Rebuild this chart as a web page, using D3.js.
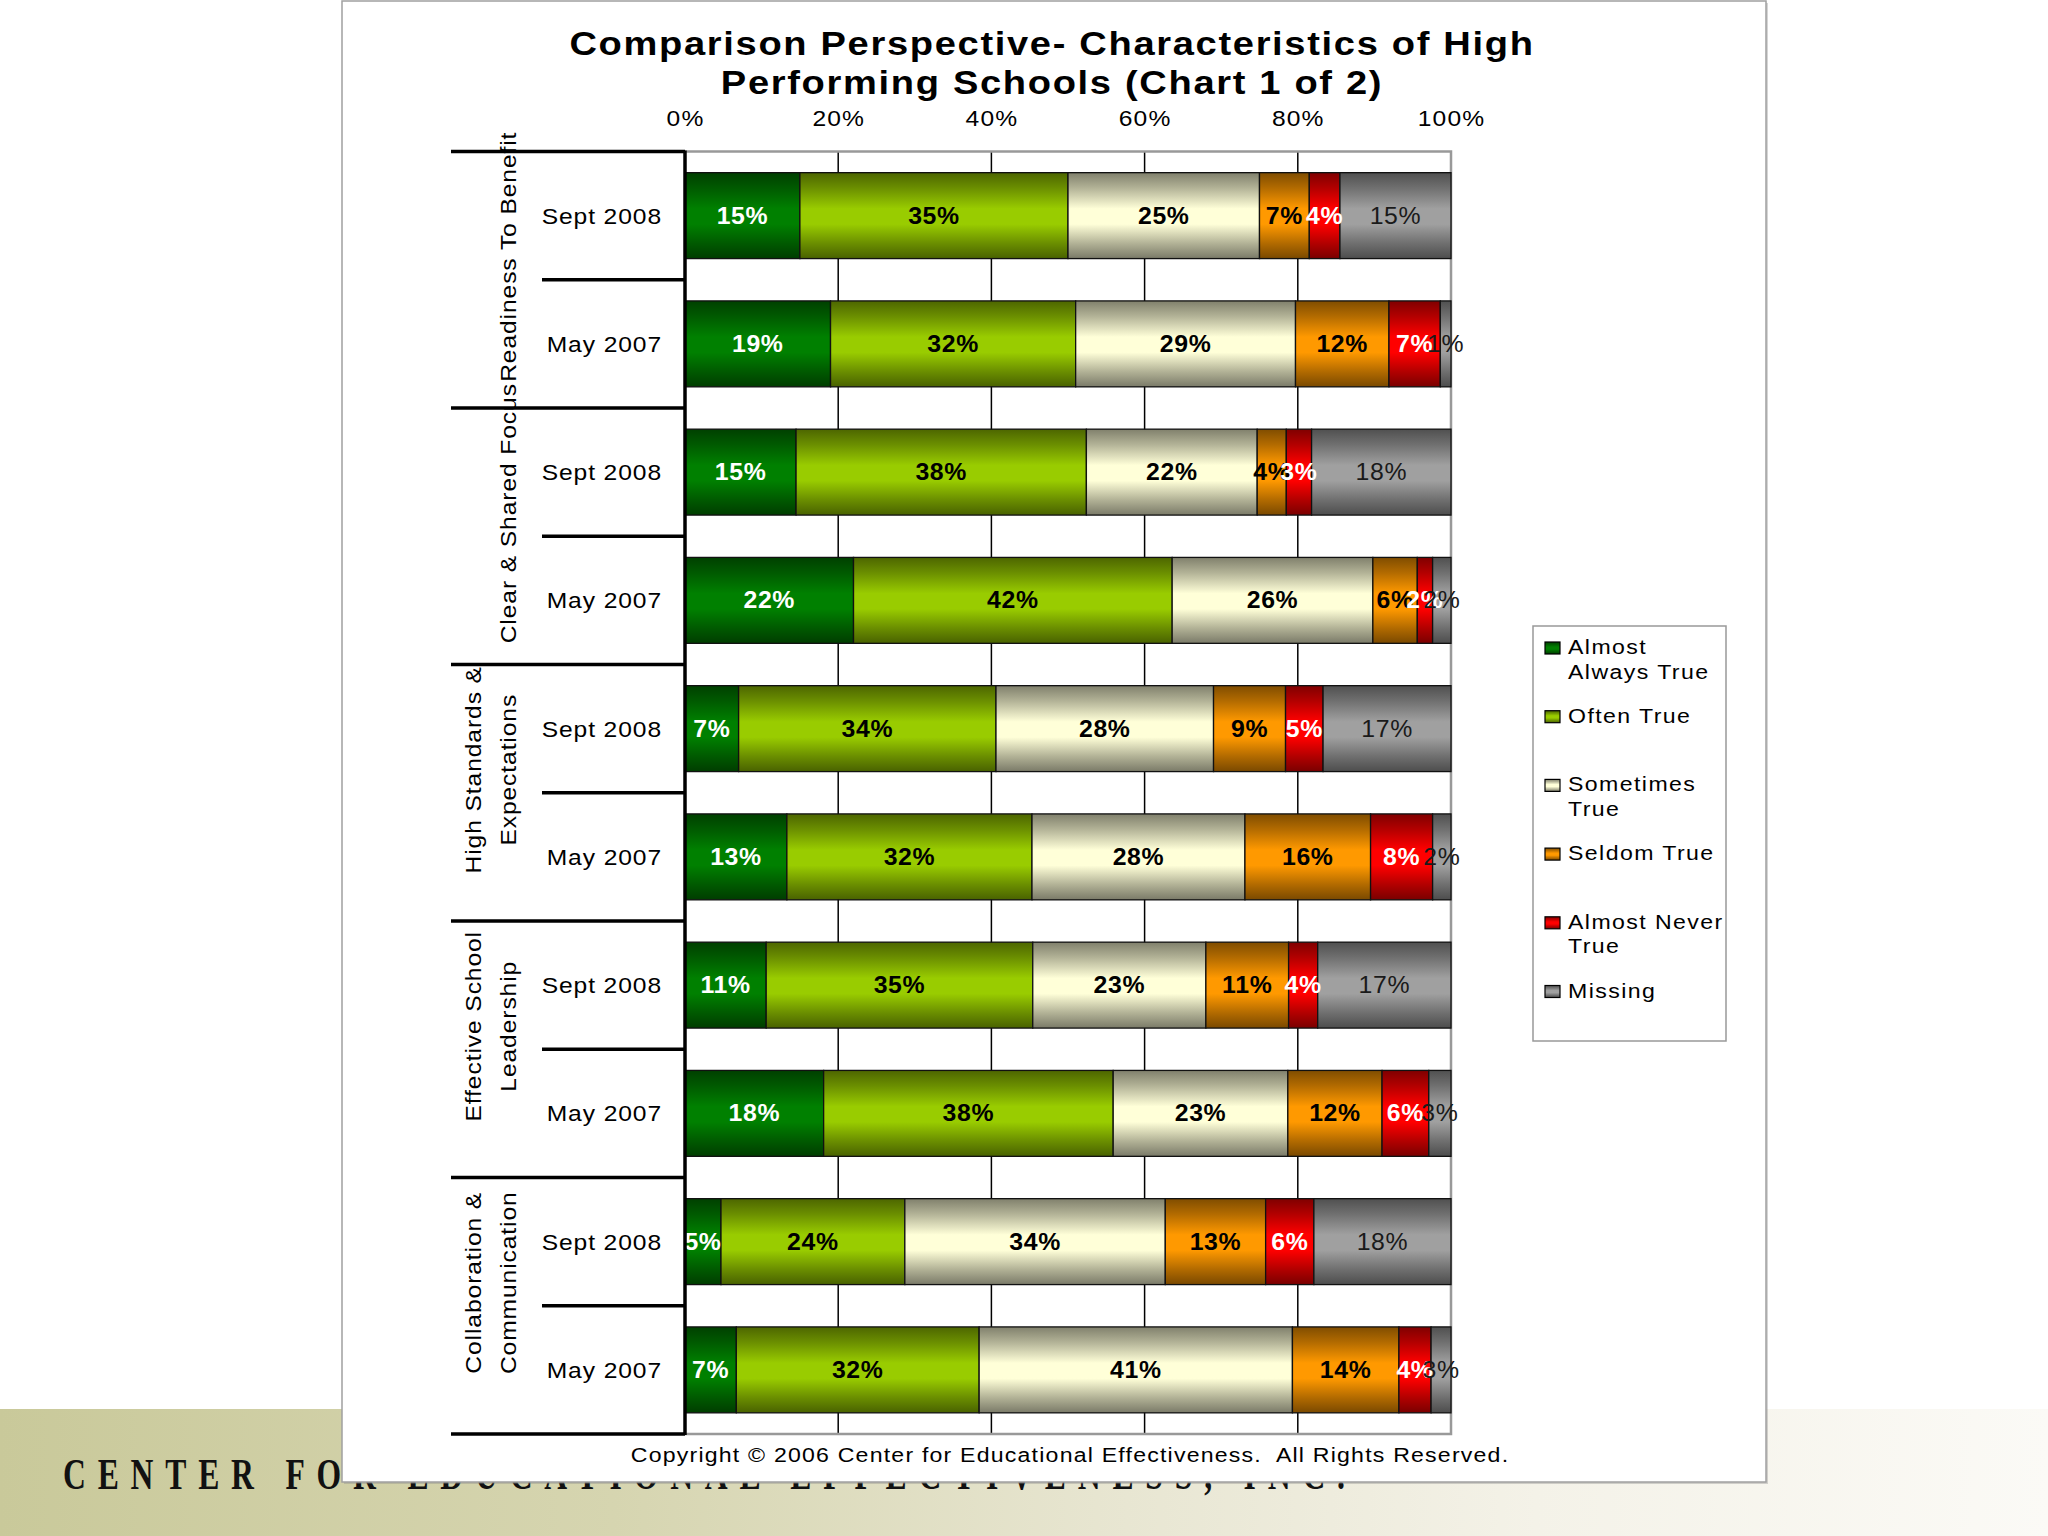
<!DOCTYPE html>
<html>
<head>
<meta charset="utf-8">
<script src="https://cdn.jsdelivr.net/npm/d3@7"></script>
<style>
  html, body { margin: 0; padding: 0; background: #fff; }
  svg { display: block; }
  text { font-family: "Liberation Sans", Arial, sans-serif; }
</style>
</head>
<body>
<script>
// ---------------- DATA ----------------
const titleLines = ["Comparison Perspective- Characteristics of High", "Performing Schools (Chart 1 of 2)"];
const groupLabels = [
  ["Readiness To Benefit"],
  ["Clear & Shared Focus"],
  ["High Standards &", "Expectations"],
  ["Effective School", "Leadership"],
  ["Collaboration &", "Communication"]
];
const periods = ["Sept 2008", "May 2007"];
const seriesNames = ["Almost Always True", "Often True", "Sometimes True", "Seldom True", "Almost Never True", "Missing"];
const legendLines = [["Almost", "Always True"], ["Often True"], ["Sometimes", "True"], ["Seldom True"], ["Almost Never", "True"], ["Missing"]];
const seriesColors = ["#008000", "#99CC00", "#FFFFD8", "#FF9900", "#FF0000", "#A0A0A0"];
const labelColors = ["#ffffff", "#000000", "#000000", "#000000", "#ffffff", "#1a1a1a"];
const labelWeights = ["bold", "bold", "bold", "bold", "bold", "normal"];

// rows (top to bottom): per group Sept 2008 then May 2007
const almostAlwaysTrue = [15, 19, 14.5, 22, 7, 13.3, 10.6, 18.1, 4.7, 6.7];
const oftenTrue        = [35, 32, 37.9, 41.6, 33.6, 32.0, 34.8, 37.8, 24.0, 31.7];
const sometimesTrue    = [25, 28.7, 22.3, 26.2, 28.4, 27.8, 22.6, 22.8, 34.0, 40.9];
const seldomTrue       = [6.5, 12.2, 3.8, 5.8, 9.4, 16.4, 10.8, 12.3, 13.1, 13.9];
const almostNeverTrue  = [4, 6.7, 3.3, 2.0, 4.9, 8.1, 3.8, 6.1, 6.3, 4.2];
const missing          = [14.5, 1.4, 18.2, 2.4, 16.7, 2.4, 17.4, 2.9, 17.9, 2.6];
const tickValues = [0, 20, 40, 60, 80, 100];
const tickLabels = ["0%", "20%", "40%", "60%", "80%", "100%"];
const copyrightText = "Copyright \u00A9 2006 Center for Educational Effectiveness.\u00A0 All Rights Reserved.";
const footerText = "CENTER FOR EDUCATIONAL EFFECTIVENESS, INC.";

// ---------------- BUILD ----------------
const seriesValues = [almostAlwaysTrue, oftenTrue, sometimesTrue, seldomTrue, almostNeverTrue, missing];
const rows = [];
groupLabels.forEach((g, gi) => periods.forEach((p, pi) => rows.push({ id: gi * 2 + pi, group: gi, period: p })));

// horizontally stretch text around its anchor point
function stretch(sel, sx) {
  sel.each(function () {
    const t = d3.select(this);
    const x = +t.attr("x") || 0, y = +t.attr("y") || 0;
    t.attr("x", 0).attr("y", 0).attr("transform", `translate(${x},${y}) scale(${sx},1)`);
  });
}

const W = 2048, H = 1536;
const svg = d3.select("body").append("svg").attr("width", W).attr("height", H);
const defs = svg.append("defs");

// bar gradients
seriesColors.forEach((c, i) => {
  const g = defs.append("linearGradient").attr("id", "g" + i)
    .attr("x1", 0).attr("y1", 0).attr("x2", 0).attr("y2", 1);
  const dark = t => d3.interpolateRgb(c, "#000")(t);
  [[0, dark(0.5)], [0.18, dark(0.3)], [0.42, c], [0.6, c], [0.82, dark(0.3)], [1, dark(0.52)]]
    .forEach(([o, col]) => g.append("stop").attr("offset", o).attr("stop-color", col));
});
// background band gradient
const bg = defs.append("linearGradient").attr("id", "band").attr("x1", 0).attr("x2", 1).attr("y1", 0).attr("y2", 0);
[[0, "#c9c99a"], [0.3, "#d6d5b0"], [0.55, "#e8e6d2"], [0.75, "#f4f2e8"], [1, "#fbfaf6"]]
  .forEach(([o, col]) => bg.append("stop").attr("offset", o).attr("stop-color", col));

svg.append("rect").attr("width", W).attr("height", H).attr("fill", "#fff");
svg.append("rect").attr("x", 0).attr("y", 1409).attr("width", W).attr("height", H - 1409).attr("fill", "url(#band)");

// footer (partly hidden behind chart frame)
const footerScale = 0.72;
svg.append("text")
  .attr("transform", `translate(63,1489) scale(${footerScale},1)`)
  .attr("textLength", 1282 / footerScale).attr("lengthAdjust", "spacing")
  .style("font-family", "'Liberation Serif', 'DejaVu Serif', serif")
  .style("font-weight", "bold")
  .style("font-size", "44px").attr("fill", "#111").text(footerText);

// chart frame
svg.append("rect").attr("x", 344).attr("y", 3).attr("width", 1424).attr("height", 1481).attr("fill", "#888").attr("opacity", 0.35);
svg.append("rect").attr("x", 342).attr("y", 1).attr("width", 1424).attr("height", 1481)
  .attr("fill", "#fff").attr("stroke", "#a0a0a0").attr("stroke-width", 1.5);

// title
svg.append("g").selectAll("text").data(titleLines).join("text")
  .attr("x", 1052).attr("y", (d, i) => 55 + i * 39)
  .attr("text-anchor", "middle")
  .style("font-size", "34px").style("font-weight", "bold").style("letter-spacing", "1.5px")
  .text(d => d)
  .call(stretch, 1.12);

// scales
const plotTop = 151.5, plotBottom = 1434, plotLeft = 685, plotRight = 1451;
const x = d3.scaleLinear().domain([0, 100]).range([plotLeft, plotRight]);
const y = d3.scaleBand().domain(rows.map(r => r.id)).range([plotTop, plotBottom]).paddingInner(0.33).paddingOuter(0.165);
const step = y.step();

// top axis labels
const axisG = svg.append("g").attr("transform", `translate(0,${plotTop})`)
  .call(d3.axisTop(x).tickValues(tickValues).tickFormat((d, i) => tickLabels[i]).tickSize(0).tickPadding(26));
axisG.select(".domain").remove();
axisG.selectAll("text").attr("fill", "#000").attr("dy", null).style("font-size", "22px").style("letter-spacing", "1px")
  .style("font-family", "'Liberation Sans', Arial, sans-serif")
  .call(stretch, 1.12);

// gridlines
svg.append("g").selectAll("line").data(tickValues.filter(v => v > 0 && v < 100)).join("line")
  .attr("x1", d => x(d)).attr("x2", d => x(d)).attr("y1", plotTop).attr("y2", plotBottom)
  .attr("stroke", "#000").attr("stroke-width", 1.5);
// plot border (gray)
svg.append("path")
  .attr("d", `M${x(0)},${plotTop}H${x(100)}V${plotBottom}H${x(0)}`)
  .attr("fill", "none").attr("stroke", "#999").attr("stroke-width", 2.5);

// bars
const segs = [];
rows.forEach((r, ri) => {
  let cum = 0;
  seriesValues.forEach((vals, si) => {
    const v = vals[ri];
    segs.push({ row: r.id, s: si, x0: cum, v: v });
    cum += v;
  });
});
svg.append("g").selectAll("rect").data(segs).join("rect")
  .attr("x", d => x(d.x0)).attr("y", d => y(d.row))
  .attr("width", d => x(d.x0 + d.v) - x(d.x0)).attr("height", y.bandwidth())
  .attr("fill", d => `url(#g${d.s})`).attr("stroke", "#111").attr("stroke-width", 1.3);

svg.append("g").selectAll("text").data(segs).join("text")
  .attr("x", d => x(d.x0 + d.v / 2)).attr("y", d => y(d.row) + y.bandwidth() / 2 + 8)
  .attr("text-anchor", "middle")
  .attr("fill", d => labelColors[d.s])
  .style("font-weight", d => labelWeights[d.s])
  .style("font-size", "23px").style("letter-spacing", "0.6px")
  .text(d => Math.round(d.v) + "%")
  .call(stretch, 1.08);

// left axis line
svg.append("line").attr("x1", plotLeft).attr("x2", plotLeft).attr("y1", plotTop - 1).attr("y2", plotBottom + 1)
  .attr("stroke", "#000").attr("stroke-width", 3.5);

// group separator lines
svg.append("g").selectAll("line").data(d3.range(groupLabels.length + 1)).join("line")
  .attr("x1", 451).attr("x2", plotLeft).attr("y1", d => plotTop + d * 2 * step).attr("y2", d => plotTop + d * 2 * step)
  .attr("stroke", "#000").attr("stroke-width", 3.5);
svg.append("g").selectAll("line").data(d3.range(groupLabels.length)).join("line")
  .attr("x1", 542).attr("x2", plotLeft).attr("y1", d => plotTop + (2 * d + 1) * step).attr("y2", d => plotTop + (2 * d + 1) * step)
  .attr("stroke", "#000").attr("stroke-width", 3.5);

// period labels
svg.append("g").selectAll("text").data(rows).join("text")
  .attr("x", 662).attr("y", d => y(d.id) + y.bandwidth() / 2 + 8)
  .attr("text-anchor", "end")
  .style("font-size", "22px").style("letter-spacing", "0.8px")
  .text(d => d.period)
  .call(stretch, 1.12);

// group labels (rotated)
const gl = [];
groupLabels.forEach((lines, gi) => {
  const cy = plotTop + (gi * 2 + 1) * step - 23;
  const n = lines.length;
  lines.forEach((t, li) => {
    const cx = n === 1 ? 508 : (li === 0 ? 473 : 508);
    gl.push({ t, cx, cy });
  });
});
svg.append("g").selectAll("text").data(gl).join("text")
  .attr("transform", d => `translate(${d.cx + 8},${d.cy}) rotate(-90) scale(1.12,1)`)
  .attr("text-anchor", "middle")
  .style("font-size", "22px").style("letter-spacing", "0.8px")
  .text(d => d.t);

// legend
svg.append("rect").attr("x", 1533).attr("y", 626).attr("width", 193).attr("height", 415)
  .attr("fill", "#fff").attr("stroke", "#999").attr("stroke-width", 1.5);
const lg = svg.append("g").selectAll("g").data(seriesNames).join("g")
  .attr("transform", (d, i) => `translate(1545,${654 + i * 68.7})`);
lg.append("rect").attr("x", 0).attr("y", -12).attr("width", 15).attr("height", 12)
  .attr("fill", (d, i) => `url(#g${i})`).attr("stroke", "#000").attr("stroke-width", 1.2);
lg.each(function (d, i) {
  d3.select(this).selectAll("text").data(legendLines[i]).join("text")
    .attr("x", 23).attr("y", (t, li) => li * 24.5)
    .style("font-size", "21px").style("letter-spacing", "1.3px")
    .text(t => t)
    .call(stretch, 1.1);
});

// copyright
svg.append("text").attr("x", 1070).attr("y", 1462).attr("text-anchor", "middle")
  .style("font-size", "21px").style("letter-spacing", "1.1px")
  .text(copyrightText)
  .call(stretch, 1.1);
</script>
</body>
</html>
